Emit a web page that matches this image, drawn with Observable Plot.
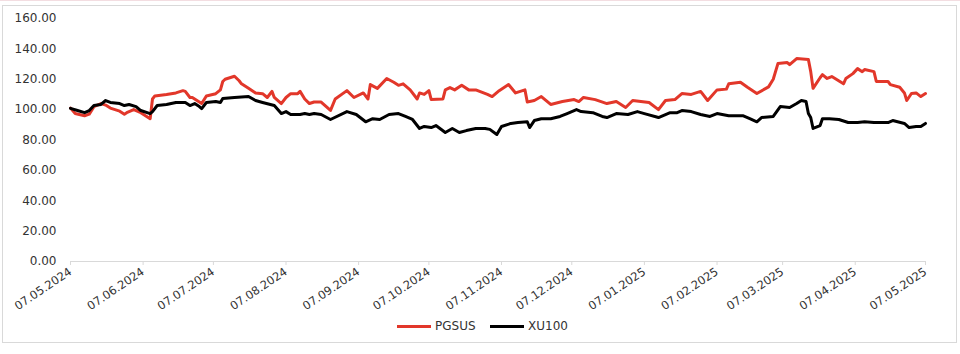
<!DOCTYPE html>
<html>
<head>
<meta charset="utf-8">
<script src="https://cdn.jsdelivr.net/npm/d3@7"></script>
<script src="https://cdn.jsdelivr.net/npm/@observablehq/plot@0.6"></script>
<style>
  html, body { margin: 0; padding: 0; background: #fff; }
  body { width: 960px; height: 354px; position: relative; overflow: hidden; font-family: "DejaVu Sans", sans-serif; border-top: 1px solid #f3dde1; box-sizing: border-box; }
  #frame { position: absolute; left: 2px; top: 4px; width: 955px; height: 338px; border: 1px solid #d9d9d9; box-sizing: border-box; }
  #chart { position: absolute; left: 0; top: 0; }
  #legend { position: absolute; top: 317px; left: 0; width: 960px; height: 16px; }
  .item { position: absolute; top: 0; display: flex; align-items: center; font-size: 12px; color: #333; height: 16px; }
  .swatch { width: 34px; height: 3px; margin-right: 4px; }
</style>
</head>
<body>
<div id="frame"></div>
<div id="chart"></div>
<div id="legend"></div>
<script>
const seriesNames = ["PGSUS", "XU100"];
const seriesColors = ["#e2372a", "#000000"];

const pgsusDates = ["2024-05-07","2024-05-09","2024-05-13","2024-05-15","2024-05-17","2024-05-20","2024-05-22","2024-05-24","2024-05-28","2024-05-30","2024-05-31","2024-06-03","2024-06-06","2024-06-10","2024-06-11","2024-06-12","2024-06-17","2024-06-21","2024-06-24","2024-06-25","2024-06-27","2024-06-28","2024-07-01","2024-07-02","2024-07-04","2024-07-08","2024-07-10","2024-07-11","2024-07-12","2024-07-16","2024-07-18","2024-07-19","2024-07-22","2024-07-25","2024-07-28","2024-07-30","2024-08-01","2024-08-02","2024-08-05","2024-08-07","2024-08-09","2024-08-12","2024-08-13","2024-08-15","2024-08-17","2024-08-19","2024-08-22","2024-08-26","2024-08-28","2024-09-02","2024-09-05","2024-09-09","2024-09-11","2024-09-12","2024-09-15","2024-09-19","2024-09-22","2024-09-24","2024-09-26","2024-09-29","2024-10-02","2024-10-03","2024-10-05","2024-10-07","2024-10-08","2024-10-13","2024-10-14","2024-10-16","2024-10-18","2024-10-21","2024-10-24","2024-10-27","2024-11-01","2024-11-03","2024-11-06","2024-11-10","2024-11-13","2024-11-17","2024-11-18","2024-11-21","2024-11-24","2024-11-28","2024-12-03","2024-12-08","2024-12-10","2024-12-12","2024-12-17","2024-12-22","2024-12-26","2024-12-30","2025-01-02","2025-01-09","2025-01-13","2025-01-16","2025-01-20","2025-01-23","2025-01-27","2025-01-31","2025-02-03","2025-02-07","2025-02-11","2025-02-12","2025-02-17","2025-02-20","2025-02-24","2025-03-01","2025-03-03","2025-03-05","2025-03-09","2025-03-10","2025-03-13","2025-03-18","2025-03-19","2025-03-20","2025-03-23","2025-03-24","2025-03-26","2025-03-28","2025-04-02","2025-04-03","2025-04-06","2025-04-08","2025-04-10","2025-04-11","2025-04-15","2025-04-16","2025-04-21","2025-04-22","2025-04-26","2025-04-28","2025-04-29","2025-05-01","2025-05-03","2025-05-05","2025-05-07"];
const pgsusValues = [101,97.5,96,97,102,104,103,101,99,97,98,100,98,94,107,109,110,111,112.5,112,108,108,105,104,109,110.5,113,118.5,120,122,119,117,114,111,110.5,108,112,108,104,108,110.5,110.5,112,107,104,105,105,99.5,107,112.5,108,111,107,116.5,114,120.5,118,116,117,113,107,111,110,112.5,106.6,107,113,114.5,113,116,113,113,110,108.6,112.5,116.5,111,113,105,106,108.6,103.4,105.3,106.6,105.3,108,106.6,104,105.3,101.4,106,104.7,100,106,106.6,110.6,110,112,106,113,113.5,117,118,114.7,110.6,115,120,130.3,131,129.6,133.6,133,125,114,121,123,120.5,121.8,117,120.5,123.7,127,125,126.4,125,118.5,118.5,116.5,114.7,111,106,110.6,111,108.6,110.6];

const xu100Dates = ["2024-05-07","2024-05-10","2024-05-13","2024-05-15","2024-05-17","2024-05-20","2024-05-22","2024-05-24","2024-05-28","2024-05-30","2024-06-01","2024-06-04","2024-06-06","2024-06-10","2024-06-11","2024-06-13","2024-06-17","2024-06-21","2024-06-25","2024-06-27","2024-06-29","2024-07-01","2024-07-02","2024-07-04","2024-07-08","2024-07-10","2024-07-11","2024-07-16","2024-07-22","2024-07-25","2024-07-28","2024-08-02","2024-08-05","2024-08-07","2024-08-09","2024-08-13","2024-08-15","2024-08-17","2024-08-19","2024-08-22","2024-08-26","2024-09-02","2024-09-06","2024-09-10","2024-09-13","2024-09-16","2024-09-20","2024-09-24","2024-09-27","2024-09-30","2024-10-03","2024-10-05","2024-10-08","2024-10-10","2024-10-14","2024-10-17","2024-10-20","2024-10-23","2024-10-27","2024-10-31","2024-11-02","2024-11-05","2024-11-07","2024-11-11","2024-11-14","2024-11-18","2024-11-19","2024-11-21","2024-11-24","2024-11-28","2024-12-02","2024-12-05","2024-12-09","2024-12-11","2024-12-16","2024-12-20","2024-12-22","2024-12-26","2024-12-31","2025-01-04","2025-01-07","2025-01-13","2025-01-18","2025-01-21","2025-01-23","2025-01-27","2025-01-31","2025-02-04","2025-02-07","2025-02-12","2025-02-18","2025-02-21","2025-02-24","2025-02-26","2025-03-03","2025-03-06","2025-03-10","2025-03-13","2025-03-15","2025-03-17","2025-03-18","2025-03-19","2025-03-20","2025-03-23","2025-03-24","2025-03-27","2025-03-31","2025-04-04","2025-04-08","2025-04-11","2025-04-15","2025-04-21","2025-04-23","2025-04-28","2025-04-30","2025-05-03","2025-05-05","2025-05-07"];
const xu100Values = [100.8,99.4,98,99.4,102.7,103.4,106,104.7,104,102.7,103.4,102,99.4,97.4,98.7,102.7,103.4,104.7,104.7,102.7,104,102,100.7,104.7,105.3,104.7,107.3,108,108.6,106,104.7,102.7,97.4,98.7,96.8,96.8,97.4,96.8,97.4,96.8,93.5,98.7,96.8,92,94,93.5,96.8,97.4,95.5,93.5,87.6,88.9,88.2,89.5,84.9,87.6,84.9,86.2,87.6,87.6,87,83.6,88.9,90.9,91.5,92,88.2,92.8,94,94,95.5,97.4,100,98.7,98,95.5,94.8,97.4,96.8,98.7,97.4,94.8,98,98,99.4,98.7,96.8,95.5,97.4,96,96,94,92,94.8,95.5,102,101.4,104,106,105.3,97.4,94.8,87.6,89.5,94,94,93.5,91.5,91.5,92,91.5,91.5,92.8,90.9,88.2,88.9,88.9,90.9];

const xTickDates = ["2024-05-07","2024-06-07","2024-07-07","2024-08-07","2024-09-07","2024-10-07","2024-11-07","2024-12-07","2025-01-07","2025-02-07","2025-03-07","2025-04-07","2025-05-07"];
const yTicks = [0, 20, 40, 60, 80, 100, 120, 140, 160];

const parse = d3.utcParse("%Y-%m-%d");
const rows = [
  ...pgsusDates.map((d, i) => ({date: parse(d), value: pgsusValues[i], series: seriesNames[0]})),
  ...xu100Dates.map((d, i) => ({date: parse(d), value: xu100Values[i], series: seriesNames[1]}))
];

const chart = Plot.plot({
  width: 960,
  height: 314,
  marginLeft: 70,
  marginRight: 35,
  marginTop: 17,
  marginBottom: 54,
  style: {fontFamily: "DejaVu Sans, sans-serif", fontSize: "11.5px", color: "#333", background: "transparent", overflow: "visible"},
  x: {type: "utc", domain: [parse(xTickDates[0]), parse(xTickDates[xTickDates.length - 1])]},
  y: {domain: [0, 160]},
  color: {domain: seriesNames, range: seriesColors},
  marks: [
    Plot.ruleY([0], {stroke: "#d9d9d9", strokeWidth: 1}),
    Plot.axisY({ticks: yTicks, tickFormat: d => d.toFixed(2), tickSize: 0, tickPadding: 14, fontSize: 12, label: null}),
    Plot.axisX({ticks: xTickDates.map(parse), tickFormat: d3.utcFormat("%d.%m.%Y"), tickRotate: -34, tickSize: 4, tickPadding: 5, stroke: "#d9d9d9", fontSize: 11.5, fill: "#333", label: null}),
    Plot.line(rows, {x: "date", y: "value", z: "series", stroke: "series", strokeWidth: 3, strokeLinejoin: "round"})
  ]
});
document.getElementById("chart").appendChild(chart);

const legend = document.getElementById("legend");
const legendLeft = [397, 490];
seriesNames.forEach((name, i) => {
  const item = document.createElement("div");
  item.className = "item";
  item.style.left = legendLeft[i] + "px";
  const sw = document.createElement("div");
  sw.className = "swatch";
  sw.style.background = seriesColors[i];
  const label = document.createElement("span");
  label.textContent = name;
  item.appendChild(sw);
  item.appendChild(label);
  legend.appendChild(item);
});
</script>
</body>
</html>
